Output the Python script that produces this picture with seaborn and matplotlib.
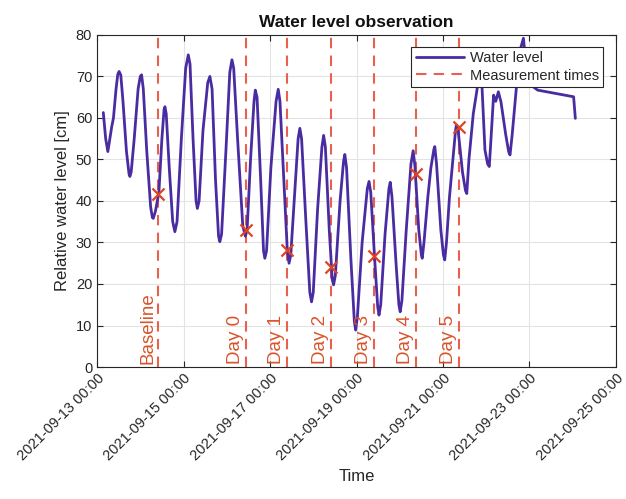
import numpy as np
import pandas as pd
import matplotlib
matplotlib.use("Agg")
import matplotlib.pyplot as plt
import matplotlib.dates as mdates
import seaborn as sns
from matplotlib.lines import Line2D

# ---- data ----
level_days = [0.145, 0.20, 0.25, 0.29, 0.34, 0.38, 0.44, 0.48, 0.51, 0.55, 0.60, 0.68,
              0.74, 0.76, 0.79, 0.86, 0.95, 1.00, 1.03, 1.07, 1.15, 1.24, 1.28, 1.30,
              1.35, 1.43, 1.50, 1.55, 1.57, 1.60, 1.67, 1.75, 1.80, 1.85, 1.95, 2.05,
              2.11, 2.15, 2.22, 2.29, 2.32, 2.36, 2.45, 2.56, 2.61, 2.66, 2.74, 2.81,
              2.84, 2.88, 2.98, 3.07, 3.12, 3.16, 3.25, 3.37, 3.43, 3.47, 3.55, 3.63,
              3.66, 3.70, 3.78, 3.85, 3.88, 3.92, 4.02, 4.14, 4.19, 4.23, 4.32, 4.40,
              4.44, 4.48, 4.57, 4.65, 4.69, 4.73, 4.83, 4.92, 4.96, 5.00, 5.10, 5.20,
              5.24, 5.28, 5.37, 5.44, 5.47, 5.51, 5.62, 5.70, 5.73, 5.77, 5.87, 5.95,
              5.98, 6.02, 6.13, 6.25, 6.29, 6.33, 6.42, 6.49, 6.52, 6.56, 6.66, 6.75,
              6.78, 6.82, 6.92, 6.98, 7.01, 7.05, 7.15, 7.26, 7.31, 7.35, 7.44, 7.50,
              7.52, 7.56, 7.65, 7.72, 7.79, 7.81, 7.85, 7.95, 8.01, 8.04, 8.08, 8.15,
              8.22, 8.29, 8.31, 8.35, 8.45, 8.52, 8.55, 8.60, 8.70, 8.81, 8.86, 8.90,
              8.97, 9.03, 9.07, 9.11, 9.17, 9.22, 9.28, 9.34, 9.45, 9.52, 9.55, 9.60,
              9.72, 9.80, 9.86, 9.90, 9.96, 10.19, 11.02, 11.06]
level_cm = [61.3, 55.0, 51.9, 54.5, 57.9, 60.0, 67.0, 70.5, 71.2, 70.3, 64.0, 52.0,
            46.5, 45.9, 47.0, 55.0, 67.0, 70.0, 70.4, 67.0, 52.0, 38.5, 36.0, 35.8,
            37.5, 42.0, 55.0, 62.0, 62.7, 61.0, 48.0, 35.0, 32.6, 35.0, 55.0, 72.0,
            75.2, 73.0, 55.0, 40.0, 38.2, 40.0, 57.0, 68.5, 70.0, 67.0, 45.0, 31.5,
            30.2, 32.0, 52.0, 71.0, 74.0, 72.0, 55.0, 34.0, 31.5, 33.0, 50.0, 64.0,
            66.7, 65.0, 46.0, 28.0, 26.2, 28.0, 48.0, 64.0, 66.9, 64.0, 45.0, 28.0,
            25.0, 27.0, 42.0, 55.0, 57.5, 55.0, 35.0, 18.0, 15.7, 18.0, 38.0, 53.0,
            55.8, 53.0, 33.0, 21.0, 19.8, 22.0, 40.0, 49.5, 51.2, 48.0, 26.0, 11.0,
            8.9, 12.0, 30.0, 43.0, 44.7, 42.0, 26.0, 14.5, 12.5, 15.0, 32.0, 43.0,
            44.5, 41.0, 24.0, 15.0, 13.3, 16.0, 33.0, 49.0, 52.1, 48.5, 33.0, 27.0,
            26.2, 30.0, 41.0, 48.0, 52.5, 53.1, 49.0, 33.0, 27.0, 25.8, 30.0, 41.0,
            49.0, 57.0, 58.3, 57.0, 47.0, 42.5, 41.8, 50.0, 61.0, 68.4, 73.0, 68.0,
            52.3, 49.0, 48.3, 55.0, 65.5, 64.0, 66.3, 63.9, 56.0, 51.8, 51.1, 56.0,
            70.0, 77.0, 79.2, 75.0, 68.5, 66.7, 65.1, 59.9]

meas_labels = ["Baseline", "Day 0", "Day 1", "Day 2", "Day 3", "Day 4", "Day 5"]
meas_times = ["2021-09-14 10:00", "2021-09-16 10:45", "2021-09-17 09:20",
              "2021-09-18 10:00", "2021-09-19 09:40", "2021-09-20 08:50",
              "2021-09-21 08:50"]
meas_values = [41.8, 33.0, 28.2, 24.2, 26.7, 46.5, 57.8]

start = pd.Timestamp("2021-09-13 00:00")
df = pd.DataFrame({
    "Time": [start + pd.Timedelta(days=d) for d in level_days],
    "Level": level_cm,
})
dm = pd.DataFrame({"Time": pd.to_datetime(meas_times), "Level": meas_values,
                   "Label": meas_labels})

# ---- style ----
sns.set_style("whitegrid")
plt.rcParams["font.family"] = ["Liberation Sans", "DejaVu Sans"]

line_col = "#4A2CA2"
dash_col = "#E8604E"
mark_col = "#E0431F"
text_col = "#D9532B"
axis_col = "#262626"

fig = plt.figure(figsize=(6.26, 4.99), dpi=100)
fig.patch.set_facecolor("white")
ax = fig.add_axes([0.155, 0.2645, 0.829, 0.6655])

sns.lineplot(data=df, x="Time", y="Level", ax=ax, color=line_col, linewidth=2.0,
             zorder=3)
for t, lab in zip(dm["Time"], dm["Label"]):
    ax.axvline(t, color=dash_col, linestyle=(0, (5, 3.5)), linewidth=1.5, zorder=2)
    ax.annotate(lab, xy=(t, 0), xycoords=("data", "data"), xytext=(-1.5, 2),
                textcoords="offset points", rotation=90, ha="right", va="bottom",
                color=text_col, fontsize=13.5, zorder=4)
sns.scatterplot(data=dm, x="Time", y="Level", ax=ax, marker="x", s=75,
                color=mark_col, linewidth=1.6, zorder=5)

ax.set_xlim(pd.Timestamp("2021-09-13"), pd.Timestamp("2021-09-25"))
ax.set_ylim(0, 80)
ax.set_yticks(np.arange(0, 81, 10))
ax.xaxis.set_major_locator(mdates.DayLocator(bymonthday=[13, 15, 17, 19, 21, 23, 25]))
ax.xaxis.set_major_formatter(mdates.DateFormatter("%Y-%m-%d %H:%M"))
plt.setp(ax.get_xticklabels(), rotation=45, ha="right", rotation_mode="anchor")

ax.grid(True, color="#e3e3e3", linewidth=0.8)
for s in ax.spines.values():
    s.set_visible(True)
    s.set_color(axis_col)
    s.set_linewidth(0.8)
ax.tick_params(axis="both", which="major", direction="in", length=4,
               color=axis_col, labelsize=10.5, labelcolor=axis_col,
               top=True, right=True, bottom=True, left=True)
ax.tick_params(axis="x", pad=3)

ax.set_xlabel("Time", fontsize=12, color=axis_col)
ax.set_ylabel("Relative water level [cm]", fontsize=12, color=axis_col)
ax.set_title("Water level observation", fontsize=12.5, fontweight="bold",
             color="#111111", pad=6)

handles = [Line2D([0], [0], color=line_col, linewidth=2.0),
           Line2D([0], [0], color=dash_col, linestyle=(0, (5, 3.5)), linewidth=1.5)]
leg = ax.legend(handles, ["Water level", "Measurement times"], loc="upper right",
                bbox_to_anchor=(0.975, 0.965), fontsize=10.5, fancybox=False,
                framealpha=1, edgecolor="#262626", handlelength=3.3,
                borderpad=0.3, labelspacing=0.25, handletextpad=0.4,
                borderaxespad=0)
leg.get_frame().set_linewidth(0.8)
leg.set_zorder(10)

fig.savefig("out.png", dpi=100)
